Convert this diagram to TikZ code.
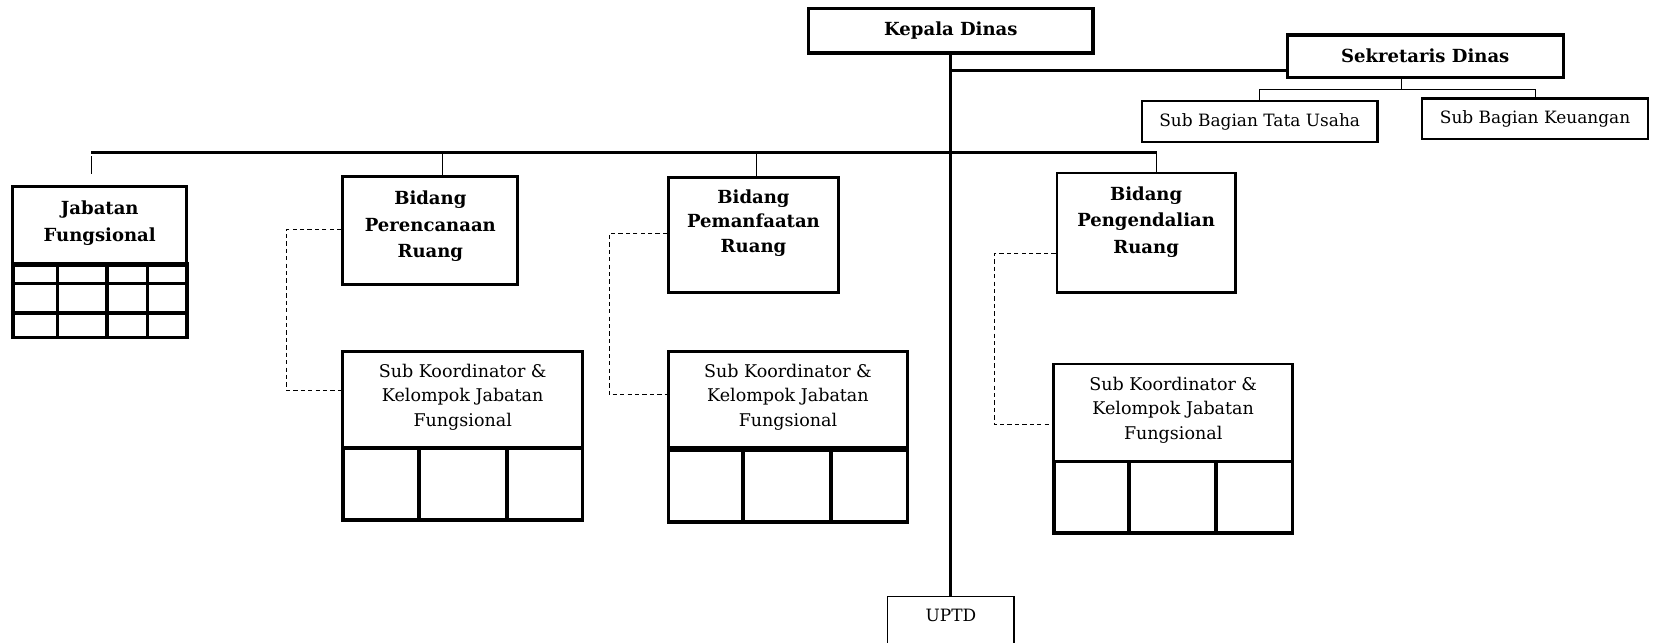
\documentclass[tikz,border=0pt]{standalone}
\usepackage{fontspec}
\setmainfont{DejaVu Serif}
\begin{document}
\begin{tikzpicture}[x=1pt,y=-1pt,
  bx/.style={draw, line width=2.7pt, inner sep=0pt},
  thinbx/.style={draw, line width=1pt, inner sep=0pt},
  bold/.style={font=\bfseries\fontsize{17}{25}\selectfont, align=center},
  reg/.style={font=\fontsize{16.5}{23}\selectfont, align=center},
  small/.style={font=\fontsize{16}{20}\selectfont, align=center},
  mainline/.style={line width=2.9pt},
  drop/.style={line width=1.2pt},
  gridline/.style={line width=3.4pt},
  dashline/.style={line width=1pt, dash pattern=on 4pt off 3pt}]
\useasboundingbox (0,0) rectangle (1568,605);
\clip (0,0) rectangle (1568,605);
\fill[white] (0,0) rectangle (1568,605);

% top
\node[bx, line width=3pt, minimum width=268pt, minimum height=42pt, bold] (kd) at (896,29) {Kepala Dinas};
\node[bx, line width=3pt, minimum width=260pt, minimum height=40pt, bold] (sd) at (1343,53) {Sekretaris Dinas};
\node[bx, line width=2.3pt, minimum width=222pt, minimum height=39pt, small] (tu) at (1187,114.5) {Sub Bagian Tata Usaha};
\node[bx, line width=2.3pt, minimum width=213pt, minimum height=38pt, small] (ku) at (1446.5,112) {Sub Bagian Keuangan};

% UPTD
\node[thinbx, minimum width=119pt, minimum height=70pt, anchor=north] (up) at (896,562) {};
\node[small] (upt) at (896,580) {UPTD};

% trunk and secretary link
\draw[mainline] (kd.south) -- (up.north);
\coordinate (sj) at (896,66);
\draw[mainline] (sj) -- (sj -| sd.west);
\coordinate (br) at (1321,84);
\draw[drop, line width=1pt] (sd.south -| br) -- (br);
\draw[drop, line width=1pt] (tu.north) |- (br) -| (ku.north);

% main horizontal line
\coordinate (mL) at (86,144);
\coordinate (mR) at (1090,144);
\draw[mainline] (mL) -- (mR);

% Jabatan Fungsional
\node[bx, minimum width=164pt, minimum height=74pt] (jf) at (94,213) {};
\node[bold] (jft) at (94,210.5) {Jabatan\\Fungsional};
\node[bx, gridline, minimum width=164pt, minimum height=68pt] (jfg) at (94,284) {};
\draw[gridline] (jfg.north west) -- (jfg.north east);
\draw[gridline] (jfg.west |- 0,267) -- (jfg.east |- 0,267);
\draw[gridline] (jfg.west |- 0,295) -- (jfg.east |- 0,295);
\foreach \xx in {54,101,139} \draw[gridline] (\xx,250) -- (\xx,318);
\draw[drop, shorten <=3pt, shorten >=11pt] (mL) -- (mL |- jf.north);

% Bidang Perencanaan
\node[bx, minimum width=165pt, minimum height=102pt] (bp1) at (405.5,217) {};
\node[bold] (bp1t) at (405.5,213.5) {Bidang\\Perencanaan\\Ruang};
\coordinate (m2) at (417,144);
\draw[drop] (m2) -- (m2 |- bp1.north);
\node[bx, minimum width=226pt, minimum height=91pt] (sk1) at (436,376.5) {};
\node[reg] (sk1t) at (436,374) {Sub Koordinator \&\\Kelompok Jabatan\\Fungsional};
\node[bx, gridline, minimum width=226pt, minimum height=68pt] (sk1g) at (436,456) {};
\foreach \xx in {395,478} \draw[gridline] (\xx,422) -- (\xx,490);
\coordinate (c1) at (270,216);
\draw[dashline] (bp1.west |- c1) -- (c1) |- (sk1.west |- 0,368);

% Bidang Pemanfaatan
\node[bx, minimum width=160pt, minimum height=109pt] (bp2) at (710,221.5) {};
\node[bold, font=\bfseries\fontsize{17}{23}\selectfont] (bp2t) at (710,210) {Bidang\\Pemanfaatan\\Ruang};
\coordinate (m3) at (713,144);
\draw[drop] (m3) -- (m3 |- bp2.north);
\node[bx, minimum width=225pt, minimum height=93pt] (sk2) at (742.5,377.5) {};
\node[reg] (sk2t) at (742.5,374) {Sub Koordinator \&\\Kelompok Jabatan\\Fungsional};
\node[bx, gridline, minimum width=225pt, minimum height=68pt] (sk2g) at (742.5,458) {};
\draw[gridline, line width=4.4pt] (sk2g.north west) -- (sk2g.north east);
\foreach \xx in {700,783} \draw[gridline] (\xx,424) -- (\xx,492);
\coordinate (c2) at (574,220);
\draw[dashline] (bp2.west |- c2) -- (c2) |- (sk2.west |- 0,372);

% Bidang Pengendalian
\node[bx, minimum width=168pt, minimum height=113pt] (bp3) at (1080,219.5) {};
\node[bold] (bp3t) at (1080,209) {Bidang\\Pengendalian\\Ruang};
\draw[drop] (mR) -- (mR |- bp3.north);
\node[bx, minimum width=225pt, minimum height=92pt] (sk3) at (1105.5,389) {};
\node[reg] (sk3t) at (1105.5,386.5) {Sub Koordinator \&\\Kelompok Jabatan\\Fungsional};
\node[bx, gridline, minimum width=225pt, minimum height=67pt] (sk3g) at (1105.5,468.5) {};
\foreach \xx in {1064,1146} \draw[gridline] (\xx,435) -- (\xx,502);
\coordinate (c3) at (937,239);
\draw[dashline] (bp3.west |- c3) -- (c3) |- (sk3.west |- 0,400);
\end{tikzpicture}
\end{document}
